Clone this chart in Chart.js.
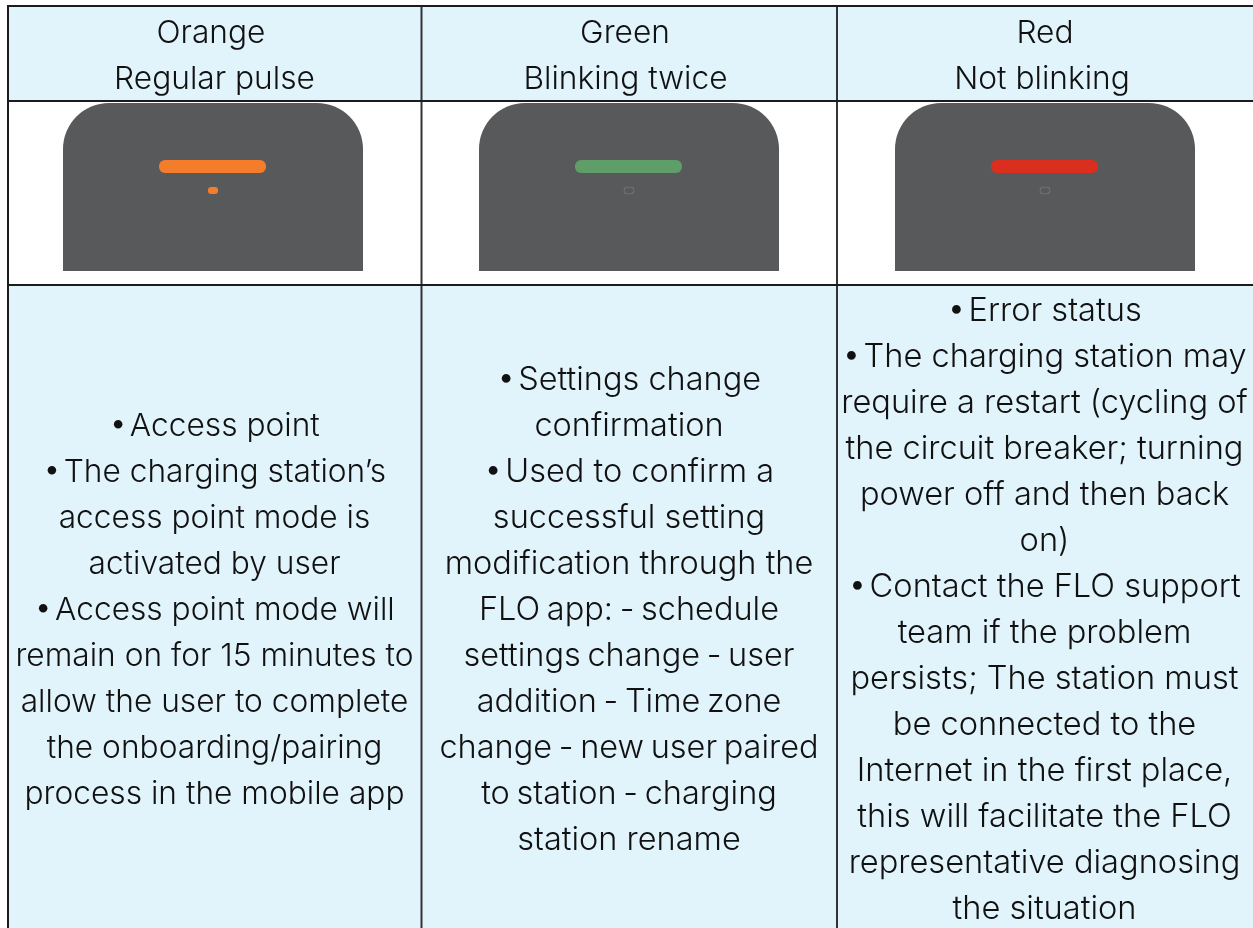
<!DOCTYPE html>
<html>
<head>
<meta charset="utf-8">
<style>html,body{margin:0;padding:0;background:#fff}canvas{display:block}#w{width:1253px;height:928px;position:relative}</style>
<script src="https://cdn.jsdelivr.net/npm/chart.js@4"></script>
</head>
<body>
<div id="w"><canvas id="c"></canvas></div>
<script>
const colourNames = ["Orange", "Green", "Red"];
const patterns = ["Regular pulse", "Blinking twice", "Not blinking"];
const ledColours = ["#F47D2B", "#5F9D69", "#DA2F1E"];
const dotLit = [true, false, false];
const descOrange = ["•\u200aAccess point","•\u200aThe charging station’s","access point mode is","activated by user","•\u200aAccess point mode will","remain on for 15 minutes to","allow the user to complete","the onboarding/pairing","process in the mobile app"];
const descGreen = ["•\u200aSettings change","confirmation","•\u200aUsed to confirm a","successful setting","modification through the","FLO app: - schedule","settings change - user","addition - Time zone","change - new user paired","to station - charging","station rename"];
const descRed = ["•\u200aError status","•\u200aThe charging station may","require a restart (cycling of","the circuit breaker; turning","power off and then back","on)","•\u200aContact the FLO support","team if the problem","persists; The station must","be connected to the","Internet in the first place,","this will facilitate the FLO","representative diagnosing","the situation"];
const descriptions = [descOrange, descGreen, descRed];

const colCentres = [214.5, 629, 1044.5];
const bodyFontPx = [31.7, 32.5, 32.6];
const headCentres = [[211, 214.5], [625, 625.5], [1045, 1042]];
const deviceCentres = [213, 629, 1045];
const lineH = 46;
const bodyMid = 610.5;
const ink = "#1c1c1c", cellBg = "#E1F4FC", deviceBg = "#58595B";

function box(x1, x2, y1, y2, style) {
  return Object.assign({
    data: [{ x: (x1 + x2) / 2, y: [y1, y2] }],
    barThickness: x2 - x1, grouped: false, inflateAmount: 0,
    borderSkipped: false, borderWidth: 0
  }, style);
}
const sets = [];
deviceCentres.forEach((c, i) => {
  if (dotLit[i]) sets.push(box(c - 5, c + 5, 187, 194, { backgroundColor: ledColours[i], borderRadius: 3 }));
  else sets.push(box(c - 5.5, c + 5.5, 186.5, 194.5, { backgroundColor: "rgba(0,0,0,0)", borderColor: "#77787a", borderWidth: 1, borderRadius: 5 }));
  sets.push(box(c - 54, c + 53, 160, 173, { backgroundColor: ledColours[i], borderRadius: 6 }));
  sets.push(box(c - 150, c + 150, 103, 271, {
    backgroundColor: deviceBg,
    borderRadius: { topLeft: 46, topRight: 46, bottomLeft: 0, bottomRight: 0 }
  }));
});
// table rules
[100, 284].forEach(y => sets.push(box(7, 1253, y, y + 2, { backgroundColor: ink })));
sets.push(box(7, 1253, 5, 7, { backgroundColor: ink }));
sets.push(box(7, 9, 5, 928, { backgroundColor: ink }));
sets.push(box(420.5, 422.5, 5, 928, { backgroundColor: "#333" }));
sets.push(box(836, 838, 5, 928, { backgroundColor: "#333" }));
// cell fills
sets.push(box(7, 1253, 5, 100.5, { backgroundColor: cellBg }));
sets.push(box(7, 1253, 284.5, 928, { backgroundColor: cellBg }));

const tablePlugin = {
  id: "tableText",
  afterDatasetsDraw(chart) {
    const c = chart.ctx, sx = chart.scales.x, sy = chart.scales.y;
    c.save();
    c.fillStyle = "#111";
    c.textAlign = "center";
    c.textBaseline = "middle";
    colCentres.forEach((cx, i) => {
      c.font = "300 31.7px Inter";
      c.fillText(colourNames[i], sx.getPixelForValue(headCentres[i][0]), sy.getPixelForValue(33));
      c.fillText(patterns[i], sx.getPixelForValue(headCentres[i][1]), sy.getPixelForValue(79));
      c.font = "300 " + bodyFontPx[i] + "px Inter";
      const x = sx.getPixelForValue(cx);
      const lines = descriptions[i];
      const top = bodyMid - (lines.length - 1) * lineH / 2;
      lines.forEach((t, k) => {
        c.wordSpacing = t.includes(" - ") ? "-2.5px" : "0px";
        c.fillText(t, x, sy.getPixelForValue(top + k * lineH));
      });
      c.wordSpacing = "0px";
    });
    c.restore();
  }
};

new Chart(document.getElementById("c"), {
  type: "bar",
  data: { datasets: sets },
  plugins: [tablePlugin],
  options: {
    responsive: true, maintainAspectRatio: false, animation: false,
    layout: { padding: 0 },
    plugins: { legend: { display: false }, tooltip: { enabled: false } },
    scales: {
      x: { type: "linear", min: 0, max: 1253, display: false, offset: false },
      y: { type: "linear", min: 0, max: 928, reverse: true, display: false }
    }
  }
});
</script>
</body>
</html>
